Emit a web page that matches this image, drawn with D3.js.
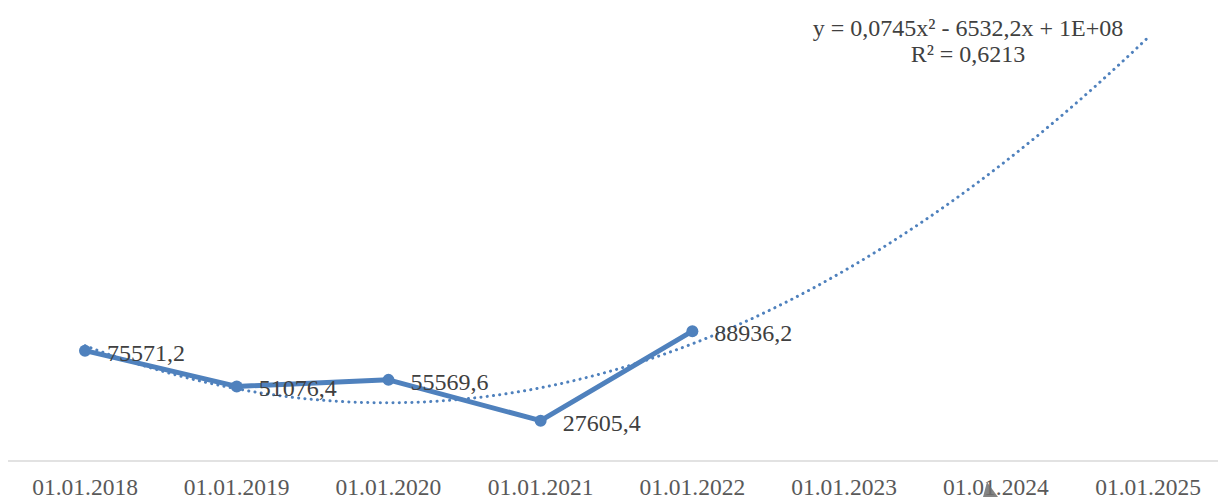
<!DOCTYPE html>
<html>
<head>
<meta charset="utf-8">
<script src="https://cdn.jsdelivr.net/npm/d3@7"></script>
<style>
  body { margin: 0; background: #fff; }
  svg text { font-family: "Liberation Serif", "Times New Roman", serif; }
</style>
</head>
<body>
<div id="chart"></div>
<script>
// data
var dates = ["2018-01-01", "2019-01-01", "2020-01-01", "2021-01-01", "2022-01-01"];
var values = [75571.2, 51076.4, 55569.6, 27605.4, 88936.2];
var tickDates = ["2018-01-01", "2019-01-01", "2020-01-01", "2021-01-01",
                 "2022-01-01", "2023-01-01", "2024-01-01", "2025-01-01"];
var trendEnd = "2025-01-01";
var equationLines = ["y = 0,0745x\u00b2 - 6532,2x + 1E+08", "R\u00b2 = 0,6213"];

var width = 1218, height = 497;
var lineColor = "#4f81bd";

var parse = d3.timeParse("%Y-%m-%d");
var fmt = d3.timeFormat("%d.%m.%Y");

var points = dates.map(function(d, i) { return { date: parse(d), value: values[i] }; });

var x = d3.scaleTime()
  .domain([parse(tickDates[0]), parse(tickDates[tickDates.length - 1])])
  .range([85, 1148]);

var y = d3.scaleLinear()
  .domain([0, 300000])
  .range([461, 23]);

var svg = d3.select("#chart").append("svg")
  .attr("width", width)
  .attr("height", height);

// x axis line
svg.append("line")
  .attr("x1", 8).attr("x2", width)
  .attr("y1", y(0)).attr("y2", y(0))
  .style("stroke", "#d9d9d9")
  .style("stroke-width", 1.5);

svg.selectAll(".tick-label")
  .data(tickDates)
  .enter()
  .append("text")
  .attr("class", "tick-label")
  .attr("x", function(d) { return x(parse(d)); })
  .attr("y", 495)
  .attr("text-anchor", "middle")
  .style("font-size", "23.5px")
  .style("fill", "#595959")
  .text(function(d) { return fmt(parse(d)); });

// polynomial (order 2) least squares trend, x in days like Excel serials
var day0 = points[0].date;
function toDays(d) { return (d - day0) / 86400000; }

function fitQuad(pts) {
  var s = [0, 0, 0, 0, 0], t = [0, 0, 0];
  pts.forEach(function(p) {
    var xv = toDays(p.date);
    for (var k = 0; k < 5; k++) s[k] += Math.pow(xv, k);
    for (var k = 0; k < 3; k++) t[k] += Math.pow(xv, k) * p.value;
  });
  var m = [[s[0], s[1], s[2], t[0]], [s[1], s[2], s[3], t[1]], [s[2], s[3], s[4], t[2]]];
  // gaussian elimination
  for (var i = 0; i < 3; i++) {
    for (var j = i + 1; j < 3; j++) {
      var f = m[j][i] / m[i][i];
      for (var k = i; k < 4; k++) m[j][k] -= f * m[i][k];
    }
  }
  var c = [0, 0, 0];
  for (var i = 2; i >= 0; i--) {
    var sum = m[i][3];
    for (var k = i + 1; k < 3; k++) sum -= m[i][k] * c[k];
    c[i] = sum / m[i][i];
  }
  return c;
}

var coef = fitQuad(points);
var endDays = toDays(parse(trendEnd));
var trend = d3.range(0, endDays + 1, 5).map(function(dd) {
  return { date: new Date(+day0 + dd * 86400000), value: coef[0] + coef[1] * dd + coef[2] * dd * dd };
});

var line = d3.line()
  .x(function(d) { return x(d.date); })
  .y(function(d) { return y(d.value); });

svg.append("path")
  .datum(trend)
  .attr("d", line)
  .style("fill", "none")
  .style("stroke", lineColor)
  .style("stroke-width", 3)
  .style("stroke-linecap", "round")
  .style("stroke-dasharray", "0.1 6.2");

svg.append("path")
  .datum(points)
  .attr("d", line)
  .style("fill", "none")
  .style("stroke", lineColor)
  .style("stroke-width", 5)
  .style("stroke-linejoin", "round");

svg.selectAll(".dot")
  .data(points)
  .enter()
  .append("circle")
  .attr("class", "dot")
  .attr("cx", function(d) { return x(d.date); })
  .attr("cy", function(d) { return y(d.value); })
  .attr("r", 6)
  .style("fill", lineColor);

svg.selectAll(".val-label")
  .data(points)
  .enter()
  .append("text")
  .attr("class", "val-label")
  .attr("x", function(d) { return x(d.date) + 22; })
  .attr("y", function(d) { return y(d.value) + 10; })
  .style("font-size", "24px")
  .style("fill", "#404040")
  .text(function(d) { return String(d.value).replace(".", ","); });

// trendline equation
svg.selectAll(".eq")
  .data(equationLines)
  .enter()
  .append("text")
  .attr("class", "eq")
  .attr("x", 968)
  .attr("y", function(d, i) { return 36 + i * 26; })
  .attr("text-anchor", "middle")
  .style("font-size", "24px")
  .style("fill", "#404040")
  .text(function(d) { return d; });

// mouse pointer caught in the screenshot
svg.append("path")
  .attr("d", "M987,482 L998,497 L983,497 Z")
  .style("fill", "#6e6e6e")
  .style("opacity", 0.85);
</script>
</body>
</html>
